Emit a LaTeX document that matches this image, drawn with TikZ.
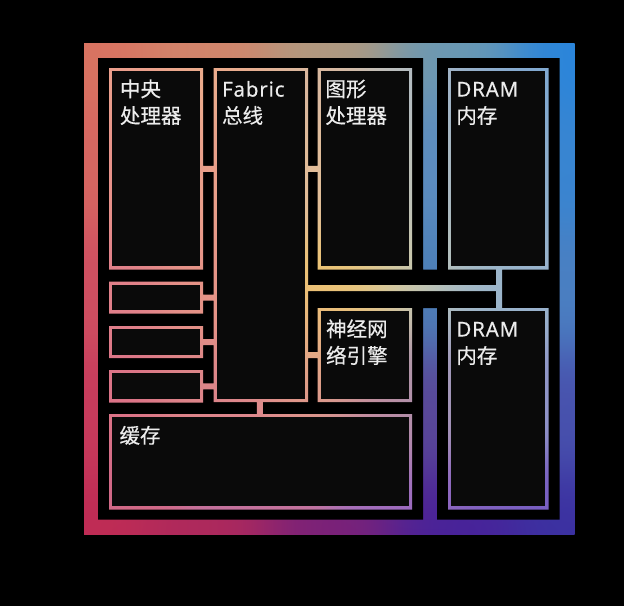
\documentclass[tikz,border=0pt]{standalone}
\usepackage{fontspec}
\setmainfont{Noto Sans}[FakeBold=0.3,LetterSpace=4]
\newfontfamily\cjk{Noto Sans CJK SC}[FakeBold=0.4]
\usetikzlibrary{calc}
\definecolor{txt}{HTML}{ECECEC}
\definecolor{boxin}{HTML}{0A0A0A}
% ---- gradient builder: Gaussian-weighted blend of control colours (PostScript calculator code)
\def\fcode{}
\def\bcode{}
\newcommand\gpt[7]{\xdef#1{#1\space 5 index #3 sub dup mul 5 index #4 sub dup mul add #2 mul neg 2.71828 exch exp 5 1 roll 4 index #7 mul add 4 1 roll 4 index #6 mul add 4 1 roll 4 index #5 mul add 4 1 roll 4 index add 4 1 roll 5 -1 roll pop}}
% frame gradient
\gpt\fcode{60}{0}{0}{.85}{.45}{.38}
\gpt\fcode{60}{0.25}{0}{.82}{.52}{.42}
\gpt\fcode{60}{0.5}{0}{.69}{.60}{.50}
\gpt\fcode{60}{0.75}{0}{.42}{.60}{.70}
\gpt\fcode{60}{1}{0}{.16}{.52}{.86}
\gpt\fcode{60}{0}{0.25}{.84}{.40}{.38}
\gpt\fcode{60}{0}{0.5}{.81}{.31}{.38}
\gpt\fcode{60}{0}{0.75}{.78}{.23}{.36}
\gpt\fcode{60}{0}{1}{.75}{.17}{.33}
\gpt\fcode{60}{0.25}{1}{.68}{.16}{.36}
\gpt\fcode{60}{0.5}{1}{.48}{.13}{.47}
\gpt\fcode{60}{0.75}{1}{.28}{.13}{.60}
\gpt\fcode{60}{1}{1}{.23}{.19}{.63}
\gpt\fcode{60}{1}{0.25}{.22}{.52}{.82}
\gpt\fcode{60}{1}{0.5}{.29}{.50}{.76}
\gpt\fcode{60}{1}{0.75}{.28}{.32}{.68}
\gpt\fcode{60}{0.71}{0.25}{.36}{.55}{.75}
\gpt\fcode{60}{0.71}{0.5}{.30}{.50}{.72}
\gpt\fcode{60}{0.71}{0.75}{.35}{.28}{.60}
% box / connector gradient
\gpt\bcode{90}{0.05}{0.05}{.92}{.62}{.55}
\gpt\bcode{90}{0.28}{0.05}{.92}{.67}{.55}
\gpt\bcode{90}{0.47}{0.05}{.85}{.72}{.62}
\gpt\bcode{90}{0.67}{0.05}{.74}{.75}{.74}
\gpt\bcode{90}{0.78}{0.05}{.55}{.67}{.80}
\gpt\bcode{90}{0.95}{0.05}{.50}{.66}{.82}
\gpt\bcode{90}{0.05}{0.28}{.91}{.57}{.54}
\gpt\bcode{90}{0.26}{0.28}{.91}{.62}{.54}
\gpt\bcode{90}{0.46}{0.28}{.88}{.74}{.60}
\gpt\bcode{90}{0.67}{0.28}{.78}{.77}{.70}
\gpt\bcode{90}{0.78}{0.28}{.57}{.68}{.79}
\gpt\bcode{90}{0.95}{0.28}{.55}{.68}{.80}
\gpt\bcode{90}{0.05}{0.5}{.88}{.50}{.54}
\gpt\bcode{90}{0.26}{0.5}{.90}{.58}{.53}
\gpt\bcode{90}{0.52}{0.49}{.93}{.77}{.44}
\gpt\bcode{90}{0.67}{0.47}{.80}{.79}{.68}
\gpt\bcode{90}{0.80}{0.5}{.60}{.71}{.80}
\gpt\bcode{90}{0.95}{0.5}{.60}{.70}{.80}
\gpt\bcode{90}{0.05}{0.72}{.86}{.45}{.53}
\gpt\bcode{90}{0.26}{0.72}{.86}{.52}{.53}
\gpt\bcode{90}{0.47}{0.64}{.91}{.70}{.52}
\gpt\bcode{90}{0.67}{0.72}{.69}{.57}{.62}
\gpt\bcode{90}{0.78}{0.72}{.58}{.60}{.79}
\gpt\bcode{90}{0.95}{0.72}{.56}{.58}{.78}
\gpt\bcode{90}{0.05}{0.95}{.82}{.41}{.53}
\gpt\bcode{90}{0.35}{0.95}{.76}{.44}{.62}
\gpt\bcode{90}{0.65}{0.95}{.63}{.42}{.75}
\gpt\bcode{90}{0.78}{0.95}{.50}{.38}{.75}
\gpt\bcode{90}{0.95}{0.95}{.47}{.37}{.76}
\gpt\bcode{90}{0.36}{0.77}{.87}{.52}{.57}
\gpt\bcode{90}{0.60}{0.78}{.74}{.52}{.66}
\gpt\bcode{90}{0.46}{0.73}{.86}{.58}{.52}
\pgfdeclarefunctionalshading{framegrad}{\pgfpointorigin}{\pgfpoint{100bp}{100bp}}{}{75 exch sub 50 div exch 25 sub 50 div exch 0.000001 0 0 0 \fcode\space 3 index div 4 1 roll 2 index div 4 1 roll 1 index div 4 1 roll pop 5 3 roll pop pop}
\pgfdeclarefunctionalshading{boxgrad}{\pgfpointorigin}{\pgfpoint{100bp}{100bp}}{}{75 exch sub 50 div exch 25 sub 50 div exch 0.000001 0 0 0 \bcode\space 3 index div 4 1 roll 2 index div 4 1 roll 1 index div 4 1 roll pop 5 3 roll pop pop}
\begin{document}
\begin{tikzpicture}[x=1pt,y=-1pt,
  boxn/.style={rectangle,inner sep=0pt,outer sep=0pt},
  lbl/.style={anchor=north west,inner sep=0pt,outer sep=0pt,align=left,text=txt,
    font=\fontsize{20.5}{26.7}\selectfont}]
\useasboundingbox (0,0) rectangle (624,606);
\fill[black] (0,0) rectangle (624,606);
% block positions (invisible named nodes)
\node[boxn,minimum width=94pt,minimum height=201.5pt] (cpu) at (156,168.75) {};
\node[boxn,minimum width=94.5pt,minimum height=334pt] (fab) at (260.75,235) {};
\node[boxn,minimum width=94.5pt,minimum height=201.5pt] (gpu) at (364.75,168.75) {};
\node[boxn,minimum width=100.5pt,minimum height=201.5pt] (dram1) at (498.25,168.75) {};
\node[boxn,minimum width=94pt,minimum height=32pt] (s1) at (156,297.5) {};
\node[boxn,minimum width=94pt,minimum height=32pt] (s2) at (156,342) {};
\node[boxn,minimum width=94pt,minimum height=32.5pt] (s3) at (156,386.25) {};
\node[boxn,minimum width=94.5pt,minimum height=94pt] (ne) at (364.75,355) {};
\node[boxn,minimum width=303pt,minimum height=95.5pt] (cache) at (260.5,461.75) {};
\node[boxn,minimum width=100.5pt,minimum height=201.5pt] (dram2) at (498.25,408.75) {};
\coordinate (j) at (499,288);
% outer gradient frame
\shade[shading=framegrad] (84,43.5) rectangle (574.5,534);
\fill[black] (98,58) -- (423,58) -- (423,269.5) -- (437,269.5) -- (437,58) -- (559.5,58)
  -- (559.5,519.5) -- (437,519.5) -- (437,308) -- (423,308) -- (423,519.5) -- (98,519.5) -- cycle;
% block outlines and connectors in the light gradient
\begin{scope}
\path[clip] \foreach \b in {cpu,fab,gpu,dram1,s1,s2,s3,ne,cache,dram2} {(\b.north west) rectangle (\b.south east)}
  ($(cpu.east)+(0,-3)$) rectangle ($(fab.west |- cpu.east)+(0,3)$)
  ($(fab.east |- gpu.west)+(0,-3)$) rectangle ($(gpu.west)+(0,3)$)
  ($(s1.east)+(0,-3)$) rectangle ($(fab.west |- s1.east)+(0,3)$)
  ($(s2.east)+(0,-3)$) rectangle ($(fab.west |- s2.east)+(0,3)$)
  ($(s3.east)+(0,-3)$) rectangle ($(fab.west |- s3.east)+(0,3)$)
  ($(fab.east |- ne.west)+(0,-3)$) rectangle ($(ne.west)+(0,3)$)
  ($(fab.south)+(-4,0)$) rectangle ($(fab.south |- cache.north)+(2,0)$)
  ($(fab.east |- j)+(0,-3)$) rectangle ($(j)+(3,3)$)
  ($(j |- dram1.south)+(-3,0)$) rectangle ($(j |- dram2.north)+(3,0)$);
\shade[shading=boxgrad] (84,43.5) rectangle (574.5,534);
\end{scope}
\foreach \b in {cpu,fab,gpu,dram1,s1,s2,s3,ne,cache,dram2}
  \fill[boxin] ($(\b.north west)+(3.3,3.3)$) rectangle ($(\b.south east)+(-3.3,-3.3)$);
% labels
\node[lbl] (tcpu) at ($(cpu.north west)+(11,9.9)$) {\strut\cjk 中央\\\cjk 处理器};
\node[lbl] (tfab) at ($(fab.north west)+(8.6,9.9)$) {\strut Fabric\\\cjk 总线};
\node[lbl] (tgpu) at ($(gpu.north west)+(8,9.9)$) {\strut\cjk 图形\\\cjk 处理器};
\node[lbl] (tdram1) at ($(dram1.north west)+(8.4,9.9)$) {\strut DRAM\\\cjk 内存};
\node[lbl] (tne) at ($(ne.north west)+(8.6,9.9)$) {\strut\cjk 神经网\\\cjk 络引擎};
\node[lbl] (tcache) at ($(cache.north west)+(10.5,10.4)$) {\strut\cjk 缓存};
\node[lbl] (tdram2) at ($(dram2.north west)+(8.4,9.9)$) {\strut DRAM\\\cjk 内存};
\end{tikzpicture}
\end{document}
